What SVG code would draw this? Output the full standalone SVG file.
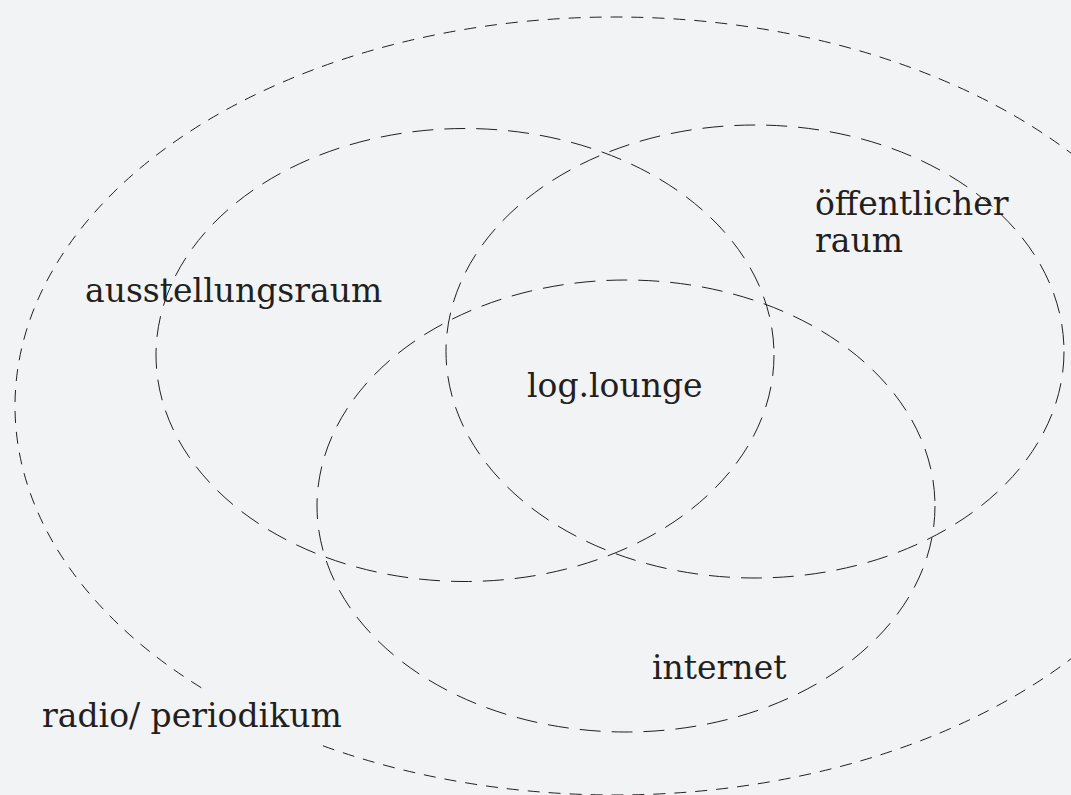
<svg xmlns="http://www.w3.org/2000/svg" width="1071" height="795" viewBox="0 0 1071 795">
  <style>
    .outer { fill: none; stroke: #231f20; stroke-width: 1; stroke-dasharray: 12 9; }
    .inner { fill: none; stroke: #231f20; stroke-width: 1; stroke-dasharray: 21 11; }
    .lbl { font-family: "DejaVu Serif", "Liberation Serif", serif; font-size: 33px; fill: #231f20; }
  </style>
  <rect x="0" y="0" width="1071" height="795" fill="#f2f3f5"/>
  <g id="radio-periodikum">
    <ellipse class="outer" cx="615" cy="406" rx="600" ry="389"/>
    <rect x="36" y="689" width="316" height="56" fill="#f2f3f5"/>
    <text class="lbl" x="42" y="727">radio/ periodikum</text>
  </g>
  <g id="ausstellungsraum">
    <ellipse class="inner" cx="465" cy="355" rx="309" ry="226.5"/>
    <text class="lbl" x="85" y="302">ausstellungsraum</text>
  </g>
  <g id="oeffentlicher-raum">
    <ellipse class="inner" cx="755" cy="351.5" rx="309" ry="226.5"/>
    <text class="lbl" x="815" y="215">öffentlicher</text>
    <text class="lbl" x="815" y="252">raum</text>
  </g>
  <g id="internet">
    <ellipse class="inner" cx="626" cy="506" rx="309" ry="226"/>
    <text class="lbl" x="652" y="679">internet</text>
  </g>
  <g id="log-lounge">
    <text class="lbl" x="527" y="397">log.lounge</text>
  </g>
  <g id="connectors"/>
</svg>
